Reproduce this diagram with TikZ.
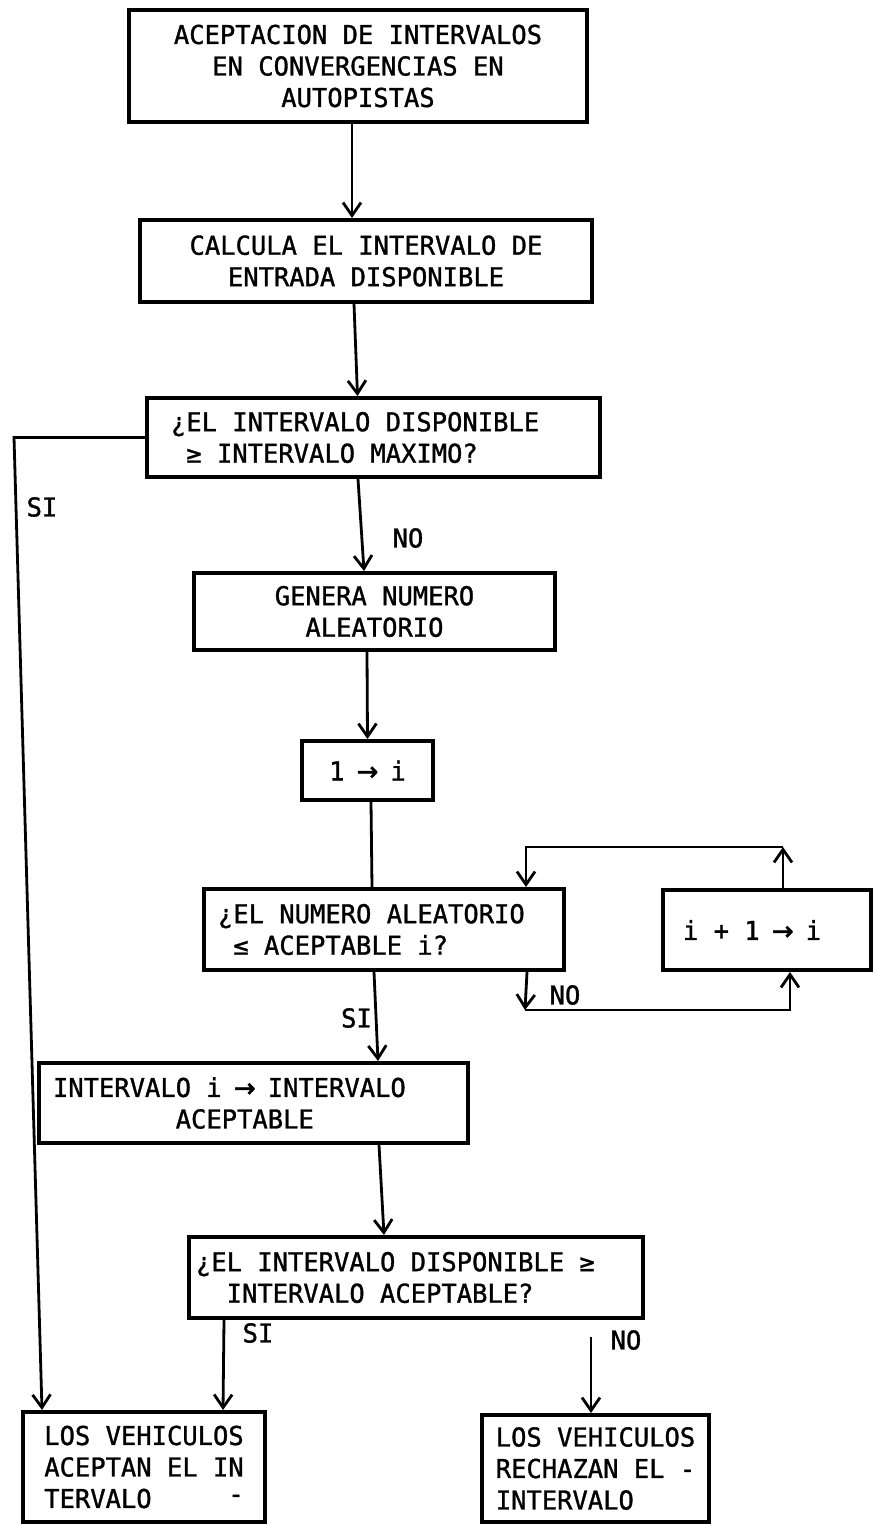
\documentclass[tikz,border=0pt]{standalone}
\usepackage{fontspec}
\setmainfont{DejaVu Sans Mono}[FakeStretch=0.98,FakeBold=1.2]
\newfontfamily\arrfont{DejaVu Sans}[FakeBold=2]
\newcommand{\rar}{\makebox[\fontcharwd\font`X]{\arrfont →}}
\usetikzlibrary{arrows.meta}
\tikzset{
  box/.style={draw, line width=4pt, rectangle, inner sep=0pt, font=\fontsize{26}{31.5}\selectfont},
  arr/.style={line width=2.8pt, -{Straight Barb[length=13pt,width=18pt,line width=2.8pt]}},
  ln/.style={line width=2.8pt},
  lbl/.style={font=\fontsize{26}{30}\selectfont, inner sep=0pt},
}
\begin{document}
\begin{tikzpicture}[x=1pt,y=-1pt]
\useasboundingbox (0,0) rectangle (873,1526);
% boxes
\node[box, minimum width=458pt, minimum height=112pt, align=center] (b1) at (358,66)
  {ACEPTACION DE INTERVALOS\\EN CONVERGENCIAS EN\\AUTOPISTAS};
\node[box, minimum width=452pt, minimum height=82pt, align=center] (b2) at (366,261)
  {CALCULA EL INTERVALO DE\\ENTRADA DISPONIBLE};
\node[box, inner xsep=24pt, text width=405pt, minimum height=79pt, align=flush left] (b3) at (373.5,437.5)
  {¿EL INTERVALO DISPONIBLE\\\phantom{X}≥ INTERVALO MAXIMO?};
\node[box, minimum width=361pt, minimum height=77pt, align=center] (b4) at (374.5,611.5)
  {GENERA NUMERO\\ALEATORIO};
\node[box, minimum width=131pt, minimum height=59pt, align=center] (b5) at (367.5,770.5)
  {1 \rar{} i};
\node[box, inner xsep=14pt, text width=332pt, minimum height=81pt, align=flush left] (b6) at (384,929.5)
  {¿EL NUMERO ALEATORIO\\\phantom{X}≤ ACEPTABLE i?};
\node[box, inner xsep=20pt, text width=168pt, minimum height=80pt, align=flush left] (b7) at (767,930)
  {i + 1 \rar{} i};
\node[box, inner xsep=14pt, text width=401pt, minimum height=80pt, align=flush left] (b8) at (253.5,1103)
  {INTERVALO i \rar{} INTERVALO\\\phantom{XXXXXXXX}ACEPTABLE};
\node[box, inner xsep=7pt, text width=440pt, minimum height=81pt, align=flush left] (b9) at (416,1277.5)
  {¿EL INTERVALO DISPONIBLE ≥\\\phantom{XX}INTERVALO ACEPTABLE?};
\node[box, minimum width=242pt, minimum height=110pt, align=left] (b10) at (144,1467)
  {LOS VEHICULOS\\ACEPTAN EL IN\\TERVALO\phantom{XXXXX}\raisebox{5pt}{-}};
\node[box, minimum width=227pt, minimum height=107pt, align=left] (b11) at (595.5,1468.5)
  {LOS VEHICULOS\\RECHAZAN EL -\\INTERVALO};
% labels
\node[lbl] (s1) at (42,507) {SI};
\node[lbl] (n1) at (408,538) {NO};
\node[lbl, anchor=east] (s2) at (372,1018) {SI};
\node[lbl] (n2) at (565,995) {NO};
\node[lbl] (s3) at (258,1333) {SI};
\node[lbl] (n3) at (626,1340) {NO};
% helper coordinates
\coordinate (k1) at (14,437.5);
\coordinate (q1) at (525,1010);
\coordinate (q3) at (783,847);
% connectors
\draw[arr] ([xshift=-6pt]b1.south) -- ([xshift=-14pt]b2.north);
\draw[arr] ([xshift=-12pt]b2.south) -- ([xshift=-16pt]b3.north);
\draw[arr] ([xshift=-15.5pt]b3.south) -- ([xshift=-10.5pt]b4.north);
\draw[arr] ([xshift=-7.5pt]b4.south) -- (b5.north);
\draw[ln] ([xshift=3.5pt]b5.south) -- ([xshift=-12pt]b6.north);
\draw[arr] ([xshift=-10pt]b6.south) -- ([xshift=124.5pt]b8.north);
\draw[arr] ([xshift=-39pt]b6.south east) -- (q1);
\draw[arr] (q1) -| ([xshift=23pt]b7.south);
\draw[arr] ([xshift=16pt]b7.north) -- (q3);
\draw[arr] (q3) -| ([xshift=-40pt]b6.north east);
\draw[arr] ([xshift=125.5pt]b8.south) -- ([xshift=-32pt]b9.north);
\draw[arr] ([xshift=-192pt]b9.south) -- ([xshift=79pt]b10.north);
\draw[arr] ([xshift=175pt,yshift=-17pt]b9.south) -- ([xshift=-4.5pt]b11.north);
\draw[arr] (b3.west) -- (k1) -- ([xshift=-102pt]b10.north);
\end{tikzpicture}
\end{document}
